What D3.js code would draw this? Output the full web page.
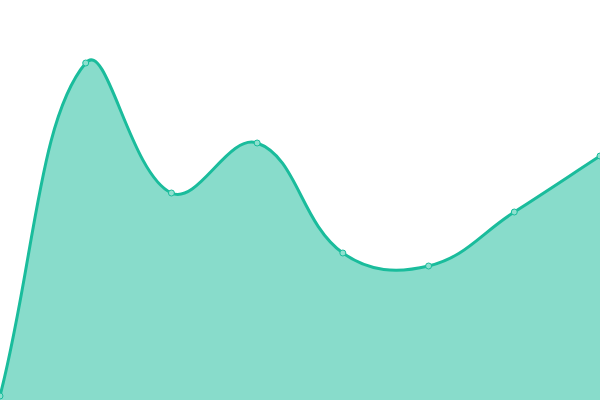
<!DOCTYPE html>
<html lang="en">
<head>
<meta charset="UTF-8">
<title>Area</title>
<style>
body { margin: 0; overflow: hidden; background: #fff; }
.area { fill: #1abc9c; fill-opacity: 0.52; }
.line { fill: none; stroke: #1abc9c; stroke-width: 3px; }
.dot { fill: #8ee0cf; stroke: #1abc9c; stroke-width: 1px; }
</style>
</head>
<body>
<svg></svg>
<script src="https://d3js.org/d3.v7.min.js"></script>
<script>
// values, y scale 0..100
const categories = ["A", "B", "C", "D", "E", "F", "G", "H"];
const values = [1, 84.25, 51.75, 64.25, 36.75, 33.5, 47, 61];

const width = 600, height = 400;

const svg = d3.select("svg")
    .attr("width", width)
    .attr("height", height);

const x = d3.scalePoint()
    .domain(categories)
    .range([0, width]);

const y = d3.scaleLinear()
    .domain([0, 100])
    .range([height, 0]);

const data = categories.map((c, i) => ({ c, v: values[i] }));

// distance weighted spline, control points capped to the plot area
function splineCurve(tension) {
    function Spline(context) { this._context = context; }
    Spline.prototype = {
        areaStart() { this._line = 0; },
        areaEnd() { this._line = NaN; },
        lineStart() { this._pts = []; },
        point(px, py) { this._pts.push([+px, +py]); },
        lineEnd() {
            const p = this._pts, n = p.length, ctx = this._context;
            if (n) {
                if (this._line) ctx.lineTo(p[0][0], p[0][1]);
                else ctx.moveTo(p[0][0], p[0][1]);
                const cps = p.map((cur, i) => {
                    const prev = p[i - 1] || cur, next = p[i + 1] || cur;
                    const d01 = Math.hypot(cur[0] - prev[0], cur[1] - prev[1]);
                    const d12 = Math.hypot(next[0] - cur[0], next[1] - cur[1]);
                    let s01 = d01 / (d01 + d12), s12 = d12 / (d01 + d12);
                    if (isNaN(s01)) s01 = 0;
                    if (isNaN(s12)) s12 = 0;
                    const fa = tension * s01, fb = tension * s12;
                    const dx = next[0] - prev[0], dy = next[1] - prev[1];
                    const clampX = v => Math.max(0, Math.min(width, v));
                    const clampY = v => Math.max(0, Math.min(height, v));
                    return {
                        inX: clampX(cur[0] - fa * dx), inY: clampY(cur[1] - fa * dy),
                        outX: clampX(cur[0] + fb * dx), outY: clampY(cur[1] + fb * dy)
                    };
                });
                for (let i = 1; i < n; i++) {
                    ctx.bezierCurveTo(cps[i - 1].outX, cps[i - 1].outY,
                        cps[i].inX, cps[i].inY, p[i][0], p[i][1]);
                }
            }
            if (this._line || (this._line !== 0 && n === 1)) ctx.closePath();
            this._line = 1 - this._line;
        }
    };
    return context => new Spline(context);
}

const curve = splineCurve(0.4);

const area = d3.area()
    .x(d => x(d.c))
    .y0(height)
    .y1(d => y(d.v))
    .curve(curve);

const line = d3.line()
    .x(d => x(d.c))
    .y(d => y(d.v))
    .curve(curve);

svg.append("path")
    .datum(data)
    .attr("class", "area")
    .attr("d", area);

svg.append("path")
    .datum(data)
    .attr("class", "line")
    .attr("d", line);

svg.append("g")
    .selectAll("circle")
    .data(data)
    .enter().append("circle")
    .attr("class", "dot")
    .attr("r", 3)
    .attr("cx", d => x(d.c))
    .attr("cy", d => y(d.v));
</script>
</body>
</html>
